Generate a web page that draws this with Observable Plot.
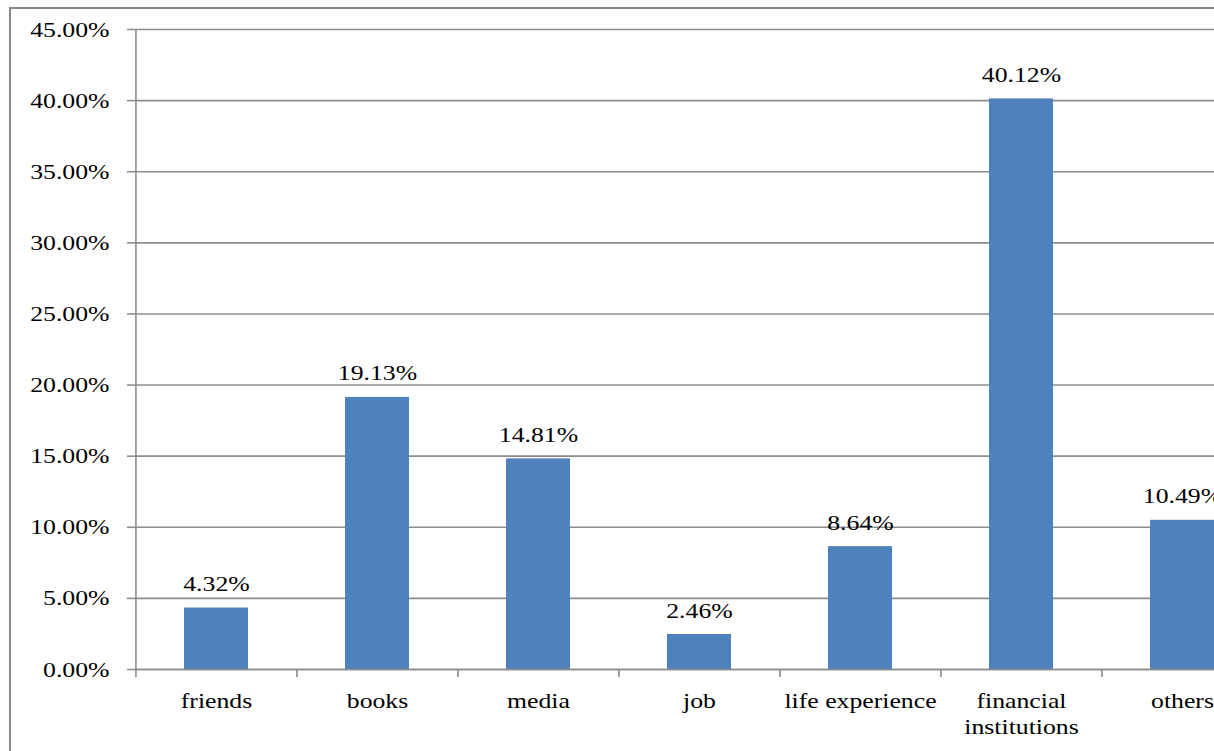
<!DOCTYPE html>
<html>
<head>
<meta charset="utf-8">
<script src="https://cdn.jsdelivr.net/npm/d3@7"></script>
<script src="https://cdn.jsdelivr.net/npm/@observablehq/plot@0.6"></script>
<style>
  html, body { margin: 0; padding: 0; background: #fff; }
  #wrap { position: relative; width: 1214px; height: 751px; overflow: hidden; }
  #border { position: absolute; left: 9px; top: 7px; width: 1400px; height: 900px; border: 2px solid #8a8a8a; pointer-events: none; }
  #chart { position: absolute; left: 0; top: 0; }
  #chart svg { max-width: none !important; }
  #chart svg, #chart svg text { font-family: "Liberation Serif", "Times New Roman", serif !important; }
</style>
</head>
<body>
<div id="wrap">
  <div id="chart"></div>
  <div id="border"></div>
</div>
<script>
const categories = ["friends", "books", "media", "job", "life experience", "financial institutions", "others"];
const values = [0.0432, 0.1913, 0.1481, 0.0246, 0.0864, 0.4012, 0.1049];
const yTicks = [0, 0.05, 0.10, 0.15, 0.20, 0.25, 0.30, 0.35, 0.40, 0.45];
const axisLabels = {"financial institutions": "financial\ninstitutions"};

const data = categories.map((c, i) => ({category: c, value: values[i]}));

const W = 1270, H = 751;
const mL = 135, mR = 7, mT = 29, mB = 82;
const step = (W - mL - mR) / categories.length;
const grey = "#8c8c8c";
const font = "'Liberation Serif', 'Times New Roman', serif";

const chart = Plot.plot({
  width: W,
  height: H,
  marginLeft: mL,
  marginRight: mR,
  marginTop: mT,
  marginBottom: mB,
  style: {fontFamily: font, fontSize: "22px", color: "#000", background: "transparent", maxWidth: "none"},
  x: {domain: categories, paddingInner: 0.6, paddingOuter: 0.3, label: null},
  y: {domain: [0, 0.45], label: null},
  marks: [
    Plot.gridY(yTicks, {stroke: grey, strokeOpacity: 1, strokeWidth: 1.6}),
    Plot.barY(data, {x: "category", y: "value", fill: "#4F81BD"}),
    Plot.ruleY([0], {stroke: grey, strokeWidth: 1.6}),
    Plot.ruleX([categories[0]], {y1: 0, y2: 0.45, dx: -step / 2, stroke: grey, strokeWidth: 1.6}),
    Plot.axisY({ticks: yTicks, tickFormat: d3.format(".2%"), tickSize: 8, tickPadding: 18, stroke: grey, strokeWidth: 1.6, fill: "#000", fontSize: 22, label: null}),
    Plot.axisX({tickSize: 8, dx: -step / 2, text: null, stroke: grey, strokeWidth: 1.6, label: null}),
    Plot.axisX({tickSize: 0, tickPadding: 19, lineHeight: 1.22, fontSize: 22, fill: "#000",
      tickFormat: d => axisLabels[d] ?? d, label: null}),
    Plot.text(data, {x: "category", y: "value", text: d => d3.format(".2%")(d.value), dy: -24, fontSize: 22, fill: "#000"})
  ]
});

// horizontally widen the text, as in the reference rendering
const sx = 1.17;
chart.querySelectorAll("text").forEach(t => {
  const tr = t.getAttribute("transform");
  if (tr) {
    t.setAttribute("transform", tr + ` scale(${sx},1)`);
  } else {
    const x = +(t.getAttribute("x") || 0), y = +(t.getAttribute("y") || 0);
    t.setAttribute("transform", `translate(${x},${y}) scale(${sx},1) translate(${-x},${-y})`);
  }
});

document.getElementById("chart").appendChild(chart);
</script>
</body>
</html>
